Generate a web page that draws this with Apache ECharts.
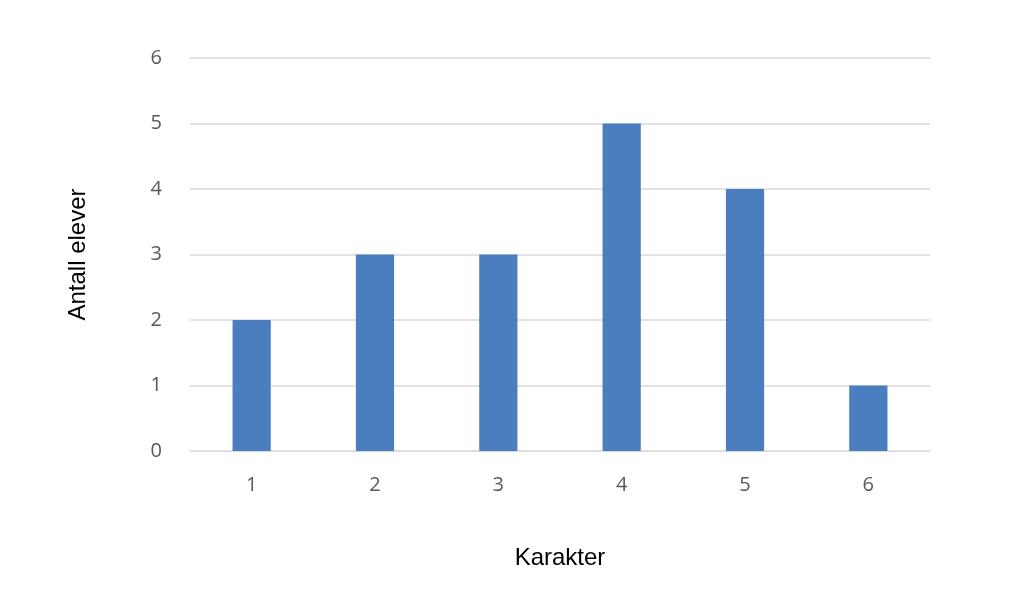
<!DOCTYPE html>
<html><head><meta charset="utf-8">
<script src="https://cdn.jsdelivr.net/npm/echarts@6/dist/echarts.min.js"></script>
<style>html,body{margin:0;padding:0;background:#fff}#c{width:1020px;height:606px}</style>
</head><body><div id="c"></div>
<script>
const categories = ['1','2','3','4','5','6'];
const values = [2,3,3,5,4,1];
const chart = echarts.init(document.getElementById('c'));
chart.setOption({
  animation:false,
  grid:{left:190,right:90,top:58,bottom:155},
  xAxis:{type:'category',data:categories,
    axisLine:{lineStyle:{color:'#d9d9d9'}},axisTick:{show:false},
    axisLabel:{color:'#595959',fontSize:20,margin:24,fontFamily:'Open Sans'},
    name:'Karakter',nameLocation:'middle',nameGap:95,
    nameTextStyle:{color:'#000',fontSize:24,fontFamily:'Liberation Sans'}},
  yAxis:{type:'value',min:0,max:6,interval:1,
    axisLine:{show:false},axisTick:{show:false},
    splitLine:{lineStyle:{color:'#d9d9d9',width:1.5}},
    axisLabel:{color:'#595959',fontSize:20,margin:28,fontFamily:'Open Sans'},
    name:'Antall elever',nameLocation:'middle',nameGap:100,
    nameTextStyle:{color:'#000',fontSize:24,fontFamily:'Liberation Sans'}},
  series:[{type:'bar',data:values,barWidth:'31%',itemStyle:{color:'#4a7ebf'}}]
});
</script></body></html>
